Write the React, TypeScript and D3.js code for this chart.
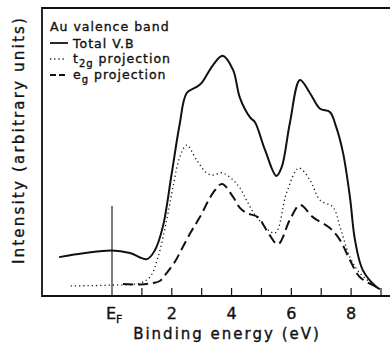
import React from "react";
import * as d3 from "d3";

const totalE = [-1.77, -0.9, 0, 0.6, 1.17, 1.44, 1.7, 2.0, 2.27, 2.5, 2.83, 3.0, 3.38, 3.7, 4.05, 4.28, 4.62, 4.78, 5.12, 5.5, 5.68, 5.95, 6.29, 6.62, 6.96, 7.29, 7.5, 7.73, 7.96, 8.13, 8.39, 8.85, 8.96];
const totalI = [13.5, 14.9, 15.8, 14.9, 12.8, 16, 24, 42.7, 60, 70.5, 72.6, 74, 80.2, 83.4, 78.5, 68.8, 62, 60.4, 50.7, 41.7, 44.8, 60, 75, 70.5, 65, 63.9, 58.7, 49.7, 34.4, 19.4, 9, 3.1, 2.4];

const t2gE = [-1.38, 0, 0.94, 1.27, 1.54, 1.83, 2.04, 2.27, 2.5, 2.83, 3.17, 3.41, 3.67, 4.05, 4.28, 4.5, 4.84, 5.45, 5.84, 6.25, 6.62, 6.96, 7.39, 7.63, 7.96, 8.29, 8.85, 8.96];
const t2gI = [3.5, 3.8, 4.5, 6.6, 13.5, 26.4, 37.8, 48.3, 52.4, 47.2, 42.7, 42, 42.8, 40.3, 37.5, 33.3, 27.4, 21.9, 35.8, 44.4, 40.3, 33.3, 30.9, 24, 13.5, 8, 3.1, 2.4];

const egE = [0.37, 0.94, 1.37, 1.6, 1.83, 2.1, 2.37, 2.64, 2.94, 3.38, 3.68, 4.05, 4.28, 4.5, 4.88, 5.17, 5.55, 5.95, 6.29, 6.72, 7.29, 7.63, 7.96, 8.29, 8.85, 8.96];
const egI = [4.2, 4, 4.5, 5.2, 8, 11.8, 17, 22.2, 27.4, 35.8, 38.9, 34.4, 30.6, 28.8, 27.4, 22.9, 18, 26.4, 31.6, 27.4, 23.6, 19.4, 12.5, 6.6, 3.1, 2.4];

const tickValues = [1, 2, 3, 4, 5, 6, 7, 8, 9];
const tickLabels = ["2", "4", "6", "8"];

const FONT = "'DejaVu Sans', sans-serif";
const INK = "#111";

export default function App() {
  const x = d3.scaleLinear().domain([0, 9]).range([112, 381]);
  const y = d3.scaleLinear().domain([0, 100]).range([296, 8]);
  const line = d3
    .line<[number, number]>()
    .x((d) => x(d[0]))
    .y((d) => y(d[1]))
    .curve(d3.curveCatmullRom.alpha(0.5));
  const zip = (a: number[], b: number[]) => a.map((v, i) => [v, b[i]] as [number, number]);

  const left = 42;
  const right = 390;
  const top = 8;
  const bottom = 296;
  const bold = { stroke: INK, strokeWidth: 0.35 };

  return (
    <svg
      width={390}
      height={345}
      style={{ position: "absolute", left: 0, top: 0, background: "#fff" }}
      fontFamily={FONT}
    >
      <rect x={0} y={0} width={390} height={345} fill="#fff" />
      {/* frame */}
      <path
        d={`M${right},${top}H${left}V${bottom}H${right}`}
        fill="none"
        stroke={INK}
        strokeWidth={1.8}
      />
      {/* ticks */}
      {tickValues.map((t) => (
        <line key={t} x1={x(t)} x2={x(t)} y1={bottom} y2={bottom - 8} stroke={INK} strokeWidth={1.2} />
      ))}
      {/* E_F line */}
      <line x1={x(0)} x2={x(0)} y1={206} y2={bottom} stroke={INK} strokeWidth={1.1} />
      {/* curves */}
      <path d={line(zip(totalE, totalI)) || ""} fill="none" stroke={INK} strokeWidth={2} />
      <path d={line(zip(t2gE, t2gI)) || ""} fill="none" stroke={INK} strokeWidth={1.3} strokeDasharray="1.2,3" />
      <path d={line(zip(egE, egI)) || ""} fill="none" stroke={INK} strokeWidth={2} strokeDasharray="10,5" />
      {/* tick labels */}
      {tickLabels.map((l) => (
        <text key={l} x={x(+l)} y={319} textAnchor="middle" fontSize={16} fill={INK} {...bold}>
          {l}
        </text>
      ))}
      <text x={106} y={319} fontSize={16} fill={INK} {...bold}>
        E<tspan fontSize={11} dy={4}>F</tspan>
      </text>
      <text x={227} y={339} textAnchor="middle" fontSize={15} letterSpacing={2} fill={INK} {...bold}>
        Binding energy (eV)
      </text>
      <text
        transform="translate(24,140) rotate(-90)"
        textAnchor="middle"
        fontSize={15}
        letterSpacing={2.2}
        fill={INK}
        {...bold}
      >
        Intensity  (arbitrary units)
      </text>
      {/* legend */}
      <g fontSize={12.5} fill={INK} letterSpacing={1} {...bold}>
        <text x={50} y={31}>Au valence band</text>
        <line x1={50} x2={68} y1={43} y2={43} stroke={INK} strokeWidth={1.8} />
        <text x={73} y={48}>Total V.B</text>
        <line x1={50} x2={66} y1={59} y2={59} stroke={INK} strokeWidth={1.3} strokeDasharray="1.2,3" />
        <text x={73} y={63}>
          t<tspan fontSize={10} dy={4}>2g</tspan>
          <tspan dy={-4}> projection</tspan>
        </text>
        <line x1={50} x2={66} y1={75} y2={75} stroke={INK} strokeWidth={1.8} strokeDasharray="6,3" />
        <text x={73} y={79}>
          e<tspan fontSize={10} dy={4}>g</tspan>
          <tspan dy={-4}> projection</tspan>
        </text>
      </g>
    </svg>
  );
}
